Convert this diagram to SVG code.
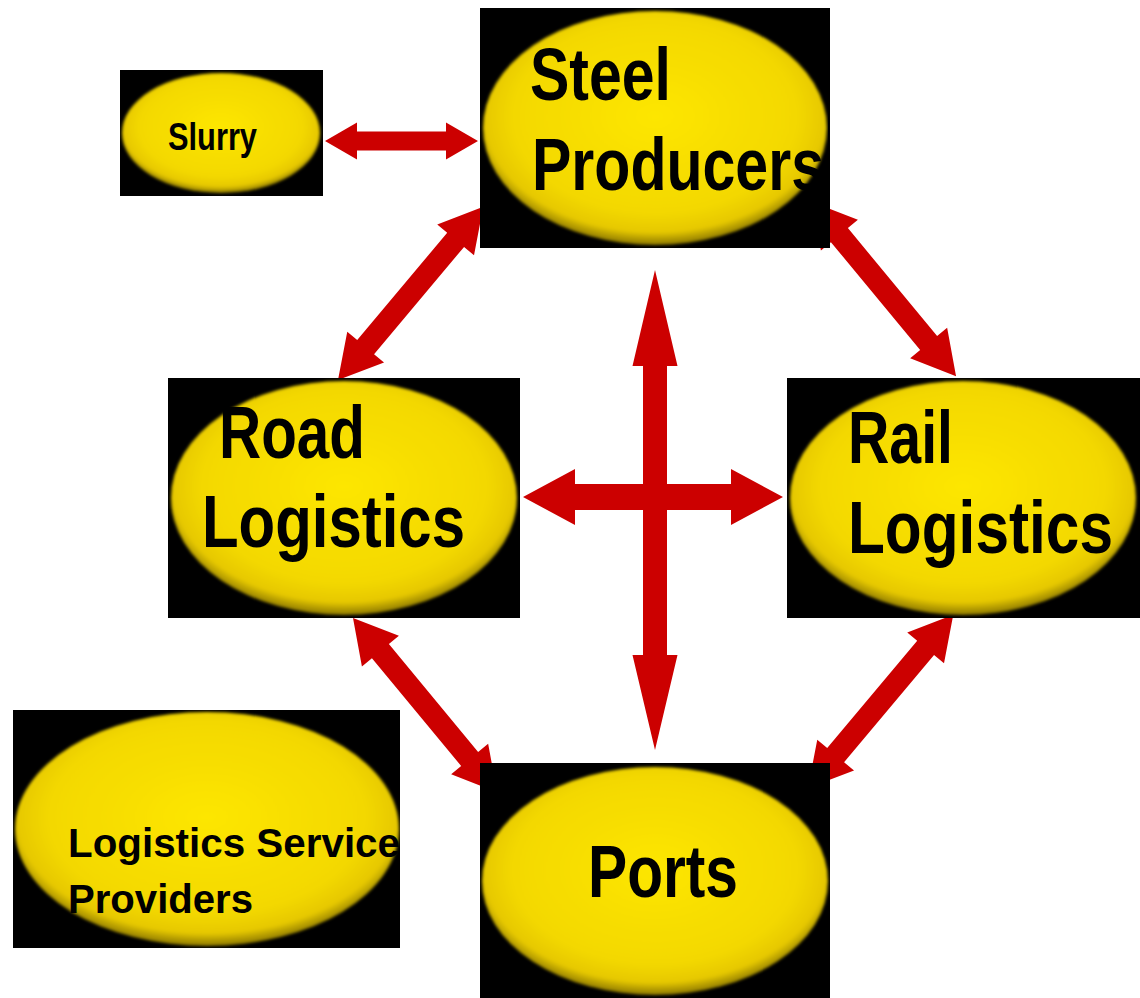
<svg xmlns="http://www.w3.org/2000/svg" xmlns:xlink="http://www.w3.org/1999/xlink" width="1140" height="998" viewBox="0 0 1140 998">
  <style>
    .box { fill: #000000; }
    .oval { fill: url(#goldFill); filter: url(#softEdge); }
    .label { font-family: "Liberation Sans", Arial, sans-serif; font-weight: bold; fill: #000000; }
    .big { font-size: 74px; }
    .mid { font-size: 40px; }
    .small { font-size: 38px; }
    .arrow { fill: #cc0000; }
  </style>
  <defs>
    <radialGradient id="goldFill" cx="50%" cy="45%" r="55%">
      <stop offset="0" stop-color="#fde600"/>
      <stop offset="0.75" stop-color="#f3d800"/>
      <stop offset="0.9" stop-color="#e6c800"/>
      <stop offset="1" stop-color="#8c7800"/>
    </radialGradient>
    <filter id="softEdge" x="-5%" y="-5%" width="110%" height="110%">
      <feGaussianBlur stdDeviation="1.6"/>
    </filter>
    <!-- double-headed block arrow, laid out along +x, 226 long -->
    <polygon id="dblArrow" points="0,0 43,-24 43,-11 183,-11 183,-24 226,0 183,24 183,11 43,11 43,24"/>
    <clipPath id="clipSlurry"><rect x="120" y="70" width="203" height="126"/></clipPath>
    <clipPath id="clipSteel"><rect x="480" y="8" width="348" height="240"/></clipPath>
    <clipPath id="clipRoad"><rect x="168" y="378" width="352" height="240"/></clipPath>
    <clipPath id="clipRail"><rect x="787" y="378" width="353" height="240"/></clipPath>
    <clipPath id="clipPorts"><rect x="480" y="763" width="350" height="235"/></clipPath>
    <clipPath id="clipLsp"><rect x="13" y="710" width="387" height="238"/></clipPath>
  </defs>

  <rect width="1140" height="998" fill="#ffffff"/>

  <g id="connectors">
    <polygon class="arrow" points="325,141 357,122.5 357,131.5 446,131.5 446,122.5 478,141 446,159.5 446,150.5 357,150.5 357,159.5"/>
    <use class="arrow" xlink:href="#dblArrow" transform="translate(338,380) rotate(-50)"/>
    <use class="arrow" xlink:href="#dblArrow" transform="translate(812,202) rotate(50.4)"/>
    <use class="arrow" xlink:href="#dblArrow" transform="translate(353,618) rotate(50.4)"/>
    <use class="arrow" xlink:href="#dblArrow" transform="translate(808,788) rotate(-50)"/>
    <polygon class="arrow" points="523,497 575,469 575,484 731,484 731,469 783,497 731,525 731,510 575,510 575,525"/>
    <polygon class="arrow" points="655,270 677.5,366 667,366 667,655 677.5,655 655,750 632.5,655 643,655 643,366 632.5,366"/>
  </g>

  <g id="node-slurry">
    <rect class="box" x="120" y="70" width="203" height="126"/>
    <g clip-path="url(#clipSlurry)">
      <ellipse class="oval" cx="221" cy="133" rx="99" ry="60"/>
      <text class="label small" x="168" y="150" textLength="89" lengthAdjust="spacingAndGlyphs">Slurry</text>
    </g>
  </g>

  <g id="node-steel">
    <rect class="box" x="480" y="8" width="350" height="240"/>
    <g clip-path="url(#clipSteel)">
      <ellipse class="oval" cx="655" cy="128" rx="172" ry="117"/>
      <text class="label big" x="530" y="100" textLength="141" lengthAdjust="spacingAndGlyphs">Steel</text>
      <text class="label big" x="532" y="190" textLength="292" lengthAdjust="spacingAndGlyphs">Producers</text>
    </g>
  </g>

  <g id="node-road">
    <rect class="box" x="168" y="378" width="352" height="240"/>
    <g clip-path="url(#clipRoad)">
      <ellipse class="oval" cx="344" cy="498" rx="173" ry="117"/>
      <text class="label big" x="219" y="458" textLength="146" lengthAdjust="spacingAndGlyphs">Road</text>
      <text class="label big" x="202" y="547" textLength="263" lengthAdjust="spacingAndGlyphs">Logistics</text>
    </g>
  </g>

  <g id="node-rail">
    <rect class="box" x="787" y="378" width="353" height="240"/>
    <g clip-path="url(#clipRail)">
      <ellipse class="oval" cx="963" cy="498" rx="173" ry="117"/>
      <text class="label big" x="848" y="463" textLength="105" lengthAdjust="spacingAndGlyphs">Rail</text>
      <text class="label big" x="848" y="553" textLength="265" lengthAdjust="spacingAndGlyphs">Logistics</text>
    </g>
  </g>

  <g id="node-ports">
    <rect class="box" x="480" y="763" width="350" height="235"/>
    <g clip-path="url(#clipPorts)">
      <ellipse class="oval" cx="655" cy="881" rx="173" ry="114"/>
      <text class="label big" x="588" y="897" textLength="150" lengthAdjust="spacingAndGlyphs">Ports</text>
    </g>
  </g>

  <g id="node-lsp">
    <rect class="box" x="13" y="710" width="387" height="238"/>
    <g clip-path="url(#clipLsp)">
      <ellipse class="oval" cx="207" cy="829" rx="192" ry="117"/>
      <text class="label mid" x="68" y="857" textLength="332" lengthAdjust="spacingAndGlyphs">Logistics Service</text>
      <text class="label mid" x="68" y="913" textLength="185" lengthAdjust="spacingAndGlyphs">Providers</text>
    </g>
  </g>
</svg>
